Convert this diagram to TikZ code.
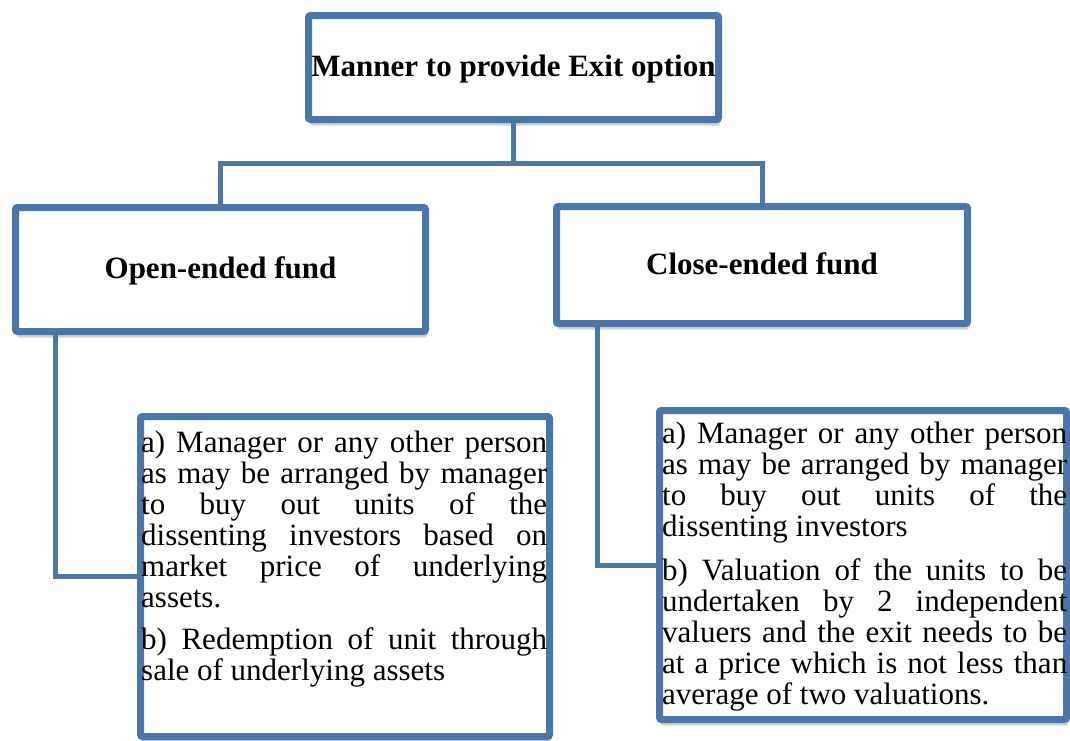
\documentclass[tikz,border=0pt]{standalone}
\usepackage{fontspec}
\setmainfont{Liberation Serif}
\usetikzlibrary{shadows}
\definecolor{boxblue}{RGB}{74,118,170}
\newcommand\bodyfnt{\fontsize{31}{31}\selectfont}
\newcommand\headfnt{\fontsize{31}{37}\selectfont\bfseries}
\newcommand\jl[1]{\makebox[406pt][s]{#1}}
\newcommand\jr[1]{\makebox[405pt][s]{#1}}
\begin{document}
\begin{tikzpicture}[x=1pt,y=-1pt,
  box/.style={draw=boxblue, line width=7pt, fill=white, rounded corners=2pt, inner sep=0pt,
    drop shadow={shadow xshift=1.5pt, shadow yshift=-6pt, fill=black, opacity=0.18}},
  headbox/.style={box, font=\headfnt, text height=24pt, text depth=6pt},
  conn/.style={draw=boxblue, line width=5pt},
  body/.style={anchor=north west, inner sep=0pt, align=left, font=\bodyfnt}]
\useasboundingbox (0,0) rectangle (1070,740);

\node[headbox, minimum width=410pt, minimum height=104pt] (top) at (513.5,67.5) {Manner to provide Exit option};
\node[headbox, minimum width=410pt, minimum height=124pt] (open) at (220.5,269.5) {Open-ended fund};
\node[headbox, minimum width=411pt, minimum height=117pt] (close) at (762,265) {Close-ended fund};
\node[box, minimum width=409pt, minimum height=320pt] (ltb) at (345,576.5) {};
\node[box, minimum width=407pt, minimum height=309pt] (rtb) at (863,565) {};

\coordinate (j) at (top.south |- 0,163);
\draw[conn] (top.south) -- (j);
\draw[conn] (open.north) |- (j) -| (close.north);
\draw[conn] ([xshift=-165.5pt]open.south) |- (ltb);
\draw[conn] ([xshift=-165pt]close.south) |- (rtb);

\node[body] (ltxt) at (141,431) {\jl{a) Manager or any other person}\\
\jl{as may be arranged by manager}\\
\jl{to buy out units of the}\\
\jl{dissenting investors based on}\\
\jl{market price of underlying}\\
assets.\\[11pt]
\jl{b) Redemption of unit through}\\
sale of underlying assets};

\node[body] (rtxt) at (662,422) {\jr{a) Manager or any other person}\\
\jr{as may be arranged by manager}\\
\jr{to buy out units of the}\\
dissenting investors\\[13pt]
\jr{b) Valuation of the units to be}\\
\jr{undertaken by 2 independent}\\
\jr{valuers and the exit needs to be}\\
\jr{at a price which is not less than}\\
average of two valuations.};
\end{tikzpicture}
\end{document}
